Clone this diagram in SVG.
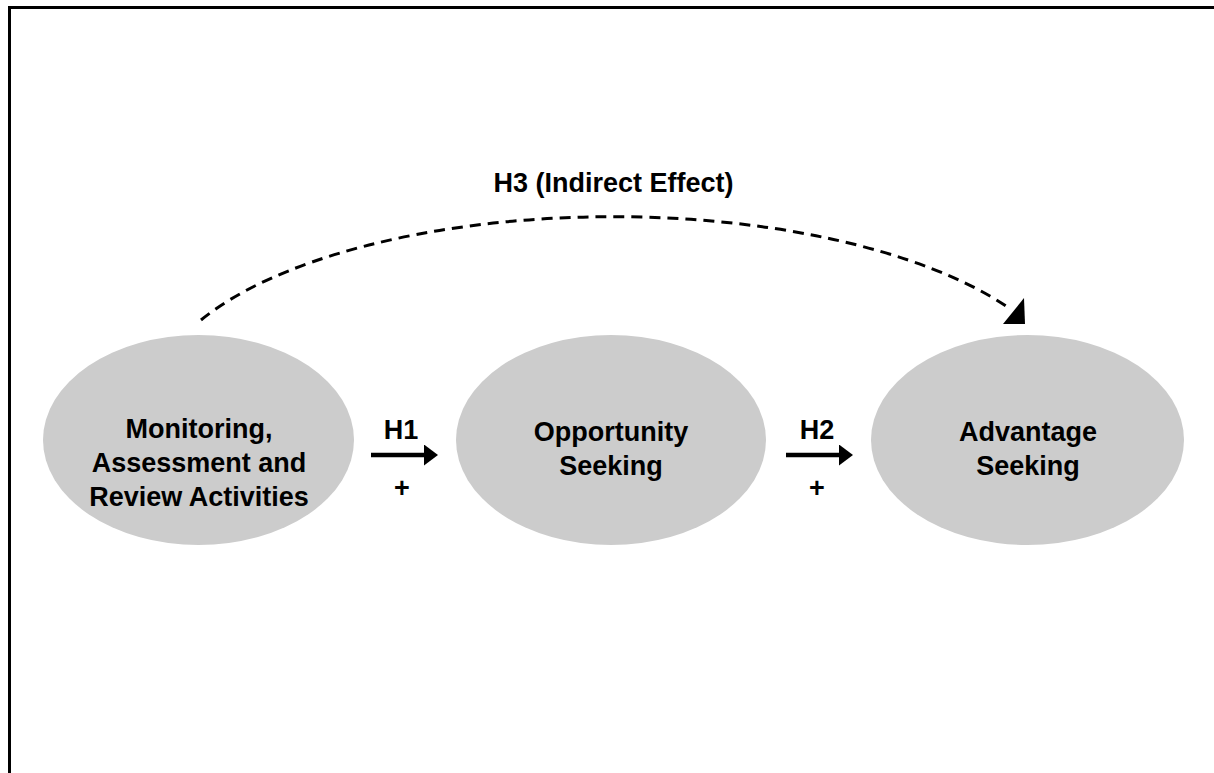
<svg xmlns="http://www.w3.org/2000/svg" width="1214" height="773" viewBox="0 0 1214 773">
<style>
  .node ellipse { fill: #cccccc; stroke: none; }
  text { font-family: "Liberation Sans", Arial, sans-serif; font-weight: bold; font-size: 27px; fill: #000; text-anchor: middle; }
  .arrow { stroke: #000; stroke-width: 4.5; fill: none; }
  .dash { stroke: #000; stroke-width: 3; fill: none; stroke-dasharray: 11 7; }
</style>
<defs>
  <marker id="head" viewBox="0 0 14 21" refX="0" refY="10.5" markerWidth="14" markerHeight="21" markerUnits="userSpaceOnUse" orient="auto">
    <path d="M0,0 L14,10.5 L0,21 Z" fill="#000"/>
  </marker>
</defs>
<path d="M9.5,773 V7.5 H1214" stroke="#000" stroke-width="3" fill="none"/>
<g id="node-monitoring" class="node">
  <ellipse cx="198.5" cy="440" rx="155.5" ry="105"/>
  <text x="199" y="438">Monitoring,</text>
  <text x="199" y="472">Assessment and</text>
  <text x="199" y="506">Review Activities</text>
</g>
<g id="node-opportunity" class="node">
  <ellipse cx="611" cy="440" rx="155" ry="105"/>
  <text x="611" y="441">Opportunity</text>
  <text x="611" y="475">Seeking</text>
</g>
<g id="node-advantage" class="node">
  <ellipse cx="1027.5" cy="440" rx="156.5" ry="105"/>
  <text x="1028" y="441">Advantage</text>
  <text x="1028" y="475">Seeking</text>
</g>
<g id="connectors">
  <line class="arrow" x1="371" y1="455" x2="424" y2="455" marker-end="url(#head)"/>
  <text x="401" y="439">H1</text>
  <text x="402" y="497">+</text>
  <line class="arrow" x1="786" y1="455" x2="839" y2="455" marker-end="url(#head)"/>
  <text x="817" y="439">H2</text>
  <text x="817" y="497">+</text>
  <path class="dash" d="M201,320 A460,186 0 0,1 1006,306"/>
  <polygon points="1024,298 1003,324 1025,324" fill="#000"/>
  <text x="613.5" y="192">H3 (Indirect Effect)</text>
</g>
</svg>
